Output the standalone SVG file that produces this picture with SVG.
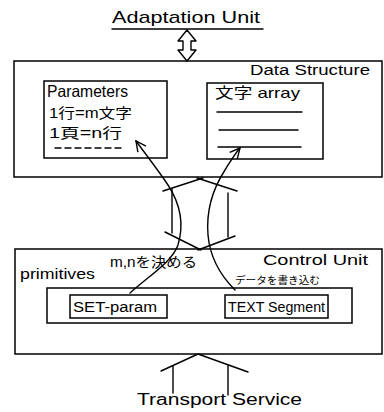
<svg xmlns="http://www.w3.org/2000/svg" width="384" height="412" viewBox="0 0 384 412">
  <defs>
    <style>
      .ln { fill: none; stroke: #000; stroke-width: 1.4; stroke-linecap: round; stroke-linejoin: round; }
      .box { fill: #fff; stroke: #000; stroke-width: 1.5; }
      .t { font-family: "Liberation Sans", "Noto Sans CJK JP", sans-serif; fill: #000; }
    </style>
    <marker id="open" viewBox="0 0 12 12" refX="11" refY="6" markerWidth="12" markerHeight="12" markerUnits="userSpaceOnUse" orient="auto">
      <path d="M1,1 L11,6 L1,11" fill="none" stroke="#000" stroke-width="1.4"/>
    </marker>
  </defs>
  <rect width="384" height="412" fill="#fff"/>

  <!-- upper interface -->
  <g id="adaptation-unit">
    <text class="t" x="112" y="23" font-size="17" textLength="148" lengthAdjust="spacingAndGlyphs">Adaptation Unit</text>
    <line class="ln" x1="112" y1="29" x2="263" y2="29"/>
  </g>

  <!-- data structure layer -->
  <g id="data-structure">
    <rect class="box" x="14" y="61" width="368" height="116"/>
    <text class="t" x="250" y="75" font-size="14" textLength="120" lengthAdjust="spacingAndGlyphs">Data Structure</text>
  </g>

  <g id="parameters">
    <rect class="box" x="44" y="81" width="123" height="77"/>
    <text class="t" x="47" y="97" font-size="16.5" textLength="81" lengthAdjust="spacingAndGlyphs">Parameters</text>
    <text class="t" x="49" y="118" font-size="14" textLength="83" lengthAdjust="spacingAndGlyphs">1行=m文字</text>
    <text class="t" x="49" y="138" font-size="14" textLength="73" lengthAdjust="spacingAndGlyphs">1頁=n行</text>
    <line class="ln" x1="55" y1="148" x2="122" y2="148" stroke-dasharray="6,4"/>
  </g>

  <g id="char-array">
    <rect class="box" x="207" y="83" width="116" height="76"/>
    <text class="t" x="215" y="98" font-size="15" textLength="85" lengthAdjust="spacingAndGlyphs">文字 array</text>
    <line class="ln" x1="217" y1="112" x2="302" y2="112"/>
    <line class="ln" x1="219" y1="130" x2="298" y2="130"/>
    <line class="ln" x1="218" y1="147" x2="301" y2="147"/>
  </g>

  <!-- control unit layer -->
  <g id="control-unit">
    <rect class="box" x="15" y="249" width="367" height="105"/>
    <text class="t" x="263" y="265" font-size="14" textLength="105" lengthAdjust="spacingAndGlyphs">Control Unit</text>
    <text class="t" x="20" y="279" font-size="14" textLength="75" lengthAdjust="spacingAndGlyphs">primitives</text>
  </g>

  <g id="primitives">
    <rect class="box" x="47" y="288" width="305" height="35"/>
  </g>

  <g id="set-param">
    <rect class="box" x="70" y="295" width="97" height="23"/>
    <text class="t" x="73" y="312" font-size="14" textLength="84" lengthAdjust="spacingAndGlyphs">SET-param</text>
  </g>

  <g id="text-segment">
    <rect class="box" x="225" y="295" width="103" height="23"/>
    <text class="t" x="228" y="312" font-size="14" textLength="97" lengthAdjust="spacingAndGlyphs">TEXT Segment</text>
  </g>

  <!-- lower interface -->
  <g id="transport-service">
    <text class="t" x="137" y="405" font-size="16" textLength="165" lengthAdjust="spacingAndGlyphs">Transport Service</text>
  </g>

  <g id="connectors">
    <!-- double arrow to adaptation unit -->
    <path class="ln" d="M187,30 L178,41 L183,41 L183,50 L178,50 L187,61 L196,50 L191,50 L191,41 L196,41 Z"/>

    <!-- hexagonal passage between layers -->
    <line class="ln" x1="163" y1="191" x2="203" y2="178"/>
    <line class="ln" x1="197" y1="178" x2="237" y2="191"/>
    <line class="ln" x1="172" y1="189" x2="172" y2="233"/>
    <line class="ln" x1="228" y1="193" x2="228" y2="237"/>
    <line class="ln" x1="165" y1="232" x2="201" y2="250"/>
    <line class="ln" x1="198" y1="250" x2="235" y2="236"/>

    <!-- SET-param writes parameters -->
    <path class="ln" d="M130,293 C150,275 172,262 178,245 C184,225 181,205 168,185 C158,170 147,156 136,141" marker-end="url(#open)"/>
    <text class="t" x="110" y="267" font-size="14" textLength="87" lengthAdjust="spacingAndGlyphs">m,nを決める</text>

    <!-- TEXT Segment writes the array -->
    <path class="ln" d="M235,290 C220,275 210,258 208,235 C206,210 212,190 225,170 C230,162 234,155 240,148" marker-end="url(#open)"/>
    <text class="t" x="235" y="284" font-size="10" textLength="85" lengthAdjust="spacingAndGlyphs">データを書き込む</text>

    <!-- transport service entry -->
    <polyline class="ln" points="161,371 198,354 248,372"/>
    <line class="ln" x1="173" y1="366" x2="173" y2="393"/>
    <line class="ln" x1="228" y1="365" x2="228" y2="395"/>
  </g>
</svg>
